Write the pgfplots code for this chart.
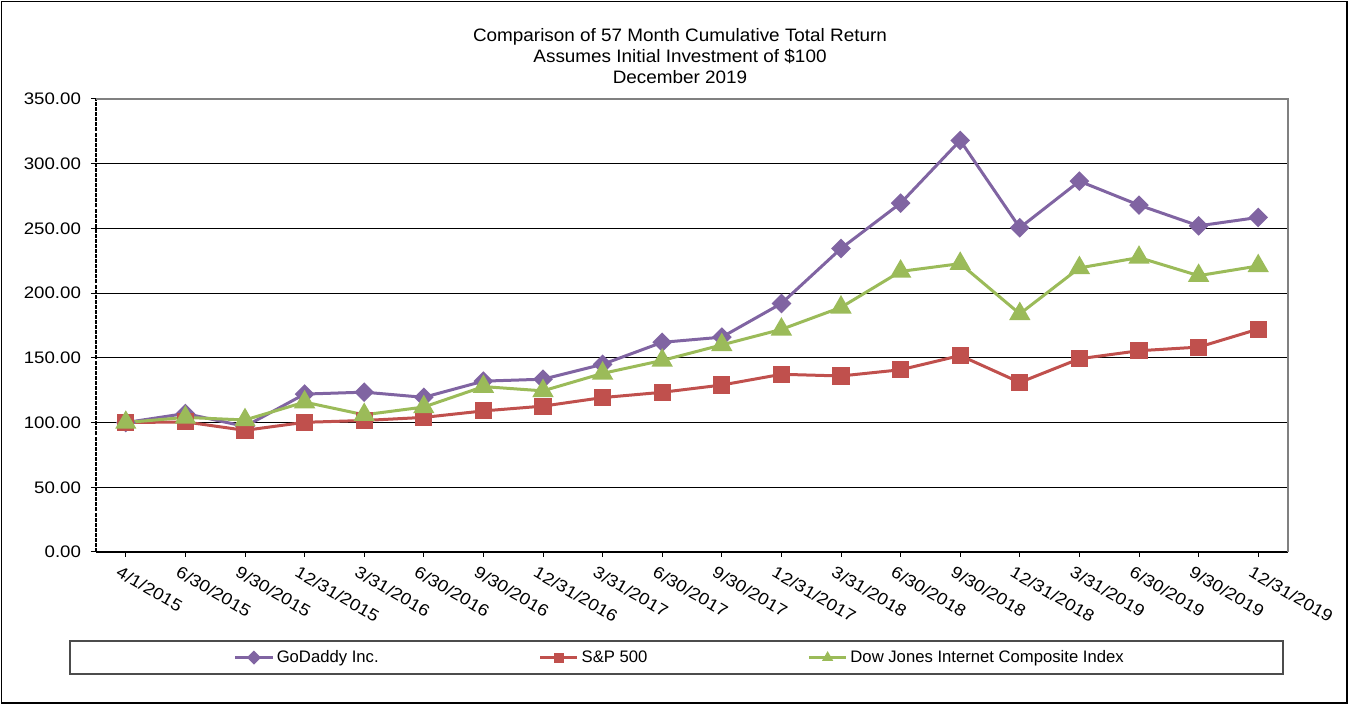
\documentclass[border=0pt]{standalone}
\usepackage{fontspec}
\setmainfont{Liberation Sans}
\newfontfamily\tickfont{Liberation Sans}[FakeStretch=1.12]
\newfontfamily\titlefont{Liberation Sans}[FakeStretch=1.05]
\usepackage{pgfplots}
\pgfplotsset{compat=1.18}
\definecolor{gdpurple}{HTML}{8064A2}
\definecolor{spred}{HTML}{C0504D}
\definecolor{djgreen}{HTML}{9BBB59}
\begin{document}
\begin{tikzpicture}
\useasboundingbox (-72pt,-117.75pt) rectangle (942pt,414pt);
\draw[black, line width=1.1pt] (-70.9pt,-113.25pt) rectangle (938.25pt,412.9pt);
\node[align=center, font=\titlefont\fontsize{13.5}{15.75}\selectfont] at (438pt,372pt)
  {Comparison of 57 Month Cumulative Total Return\\Assumes Initial Investment of \$100\\December 2019};
\begin{axis}[
    scale only axis,
    width=894pt, height=339.75pt,
    xmin=-0.5, xmax=19.5,
    ymin=0, ymax=350,
    axis x line*=bottom, axis y line*=left,
    clip=false,
    ytick={0,50,...,350},
    yticklabels={0.00,50.00,100.00,150.00,200.00,250.00,300.00,350.00},
    xtick={0,...,19},
    xticklabels={4/1/2015,6/30/2015,9/30/2015,12/31/2015,3/31/2016,6/30/2016,9/30/2016,12/31/2016,3/31/2017,6/30/2017,9/30/2017,12/31/2017,3/31/2018,6/30/2018,9/30/2018,12/31/2018,3/31/2019,6/30/2019,9/30/2019,12/31/2019},
    ticklabel style={font=\tickfont\fontsize{12.5}{14}\selectfont},
    xticklabel style={rotate=-30, anchor=north west, inner sep=0pt, yshift=-7pt},
    yticklabel style={xshift=-4pt},
    tick align=outside,
    major tick length=3.75pt,
    tick style={black, line width=0.75pt},
    ymajorgrids,
    grid style={black, line width=0.75pt},
    x axis line style={black, line width=1pt},
    y axis line style={black, line width=1pt, dash pattern=on 3pt off 0.8pt},
    legend columns=3,
    legend style={draw=none, fill=none, at={(axis description cs:0.49,-0.233)}, anchor=center,
        font=\fontsize{12.5}{14}\selectfont,
        /tikz/every even column/.append style={column sep=118pt}},
    legend image code/.code={\draw[mark repeat=2, mark phase=2, #1] plot coordinates {(0pt,0pt) (14pt,0pt) (28pt,0pt)};},
    legend image post style={mark size=2.6pt},
]
\addplot[gdpurple, line width=2.25pt, mark=square*, mark size=4.1pt, mark options={rotate=45, solid, fill=gdpurple}]
coordinates {
(0,100)(1,107)(2,97)(3,122)(4,123.5)(5,119.5)(6,132)(7,133.5)(8,145)(9,162)
(10,166)(11,192)(12,234.5)(13,269.5)(14,318)(15,250.5)(16,286.5)(17,268)(18,252)(19,258.5)
};
\addlegendentry{GoDaddy Inc.}
\addplot[spred, line width=2.25pt, mark=square*, mark size=5.3pt, mark options={solid, fill=spred}]
coordinates {
(0,100)(1,100.5)(2,94)(3,100.2)(4,101.6)(5,104)(6,109)(7,112.7)(8,119.3)(9,123.4)
(10,129)(11,137.3)(12,136)(13,140.8)(14,151.8)(15,131)(16,149.3)(17,155.5)(18,158.3)(19,172.2)
};
\addlegendentry{S\&P 500}
\addplot[djgreen, line width=2.25pt, mark=triangle*, mark size=7pt, mark options={solid, fill=djgreen}]
coordinates {
(0,100)(1,104)(2,102)(3,115.8)(4,106)(5,112)(6,127.8)(7,124.5)(8,138)(9,148)
(10,160)(11,172)(12,189)(13,216.8)(14,222.8)(15,184)(16,219.5)(17,227.5)(18,213.5)(19,221)
};
\addlegendentry{Dow Jones Internet Composite Index}
\draw[gray, line width=1.1pt] (rel axis cs:0,1) -- (rel axis cs:1,1) -- (rel axis cs:1,0);
\end{axis}
\draw[black!70, line width=0.9pt] (-19.5pt,-66.75pt) rectangle (890.25pt,-91.5pt);
\end{tikzpicture}
\end{document}
